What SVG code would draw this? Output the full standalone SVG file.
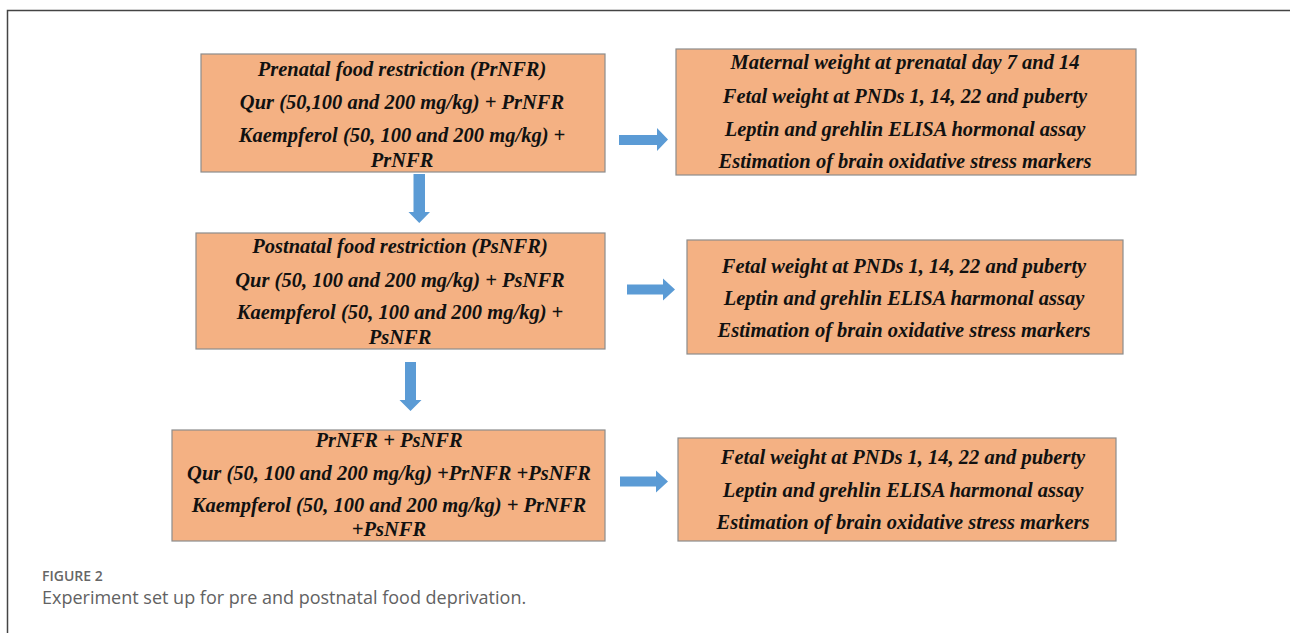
<svg xmlns="http://www.w3.org/2000/svg" width="1290" height="633" viewBox="0 0 1290 633">
<style>
.box{fill:#F4B183;stroke:#8C8C8C;stroke-width:1.2}
.t{font-family:"Liberation Serif","Times New Roman",serif;font-weight:bold;font-style:italic;font-size:20.5px;fill:#111;text-anchor:middle}
.arr{fill:#5B9BD5}
.cap1{font-family:"Open Sans","Liberation Sans",sans-serif;font-weight:600;font-size:14px;fill:#666}
.cap2{font-family:"Open Sans","Liberation Sans",sans-serif;font-size:18px;fill:#626262}
</style>
<rect x="0" y="0" width="1290" height="633" fill="#fff"/>
<path d="M7.5 633 V10.5 H1290" fill="none" stroke="#444" stroke-width="1.5"/>

<g id="prenatal">
<rect class="box" x="201" y="54" width="404" height="118"/>
<text class="t" x="402" y="76">Prenatal food restriction (PrNFR)</text>
<text class="t" x="402" y="109">Qur (50,100 and 200 mg/kg) + PrNFR</text>
<text class="t" x="402" y="142">Kaempferol (50, 100 and 200 mg/kg) +</text>
<text class="t" x="402" y="167">PrNFR</text>
</g>

<g id="prenatal-outcomes">
<rect class="box" x="676" y="49" width="460" height="126"/>
<text class="t" x="905" y="69">Maternal weight at prenatal day 7 and 14</text>
<text class="t" x="905" y="103">Fetal weight at PNDs 1, 14, 22 and puberty</text>
<text class="t" x="905" y="136">Leptin and grehlin ELISA hormonal assay</text>
<text class="t" x="905" y="168">Estimation of brain oxidative stress markers</text>
</g>

<g id="postnatal">
<rect class="box" x="196" y="233" width="409" height="116"/>
<text class="t" x="400" y="253">Postnatal food restriction (PsNFR)</text>
<text class="t" x="400" y="287">Qur (50, 100 and 200 mg/kg) + PsNFR</text>
<text class="t" x="400" y="319">Kaempferol (50, 100 and 200 mg/kg) +</text>
<text class="t" x="400" y="344">PsNFR</text>
</g>

<g id="postnatal-outcomes">
<rect class="box" x="687" y="240" width="436" height="114"/>
<text class="t" x="904" y="273">Fetal weight at PNDs 1, 14, 22 and puberty</text>
<text class="t" x="904" y="305">Leptin and grehlin ELISA harmonal assay</text>
<text class="t" x="904" y="337">Estimation of brain oxidative stress markers</text>
</g>

<g id="combined">
<rect class="box" x="172" y="430" width="433" height="111"/>
<text class="t" x="389" y="447">PrNFR + PsNFR</text>
<text class="t" x="389" y="480">Qur (50, 100 and 200 mg/kg) +PrNFR +PsNFR</text>
<text class="t" x="389" y="512">Kaempferol (50, 100 and 200 mg/kg) + PrNFR</text>
<text class="t" x="389" y="536">+PsNFR</text>
</g>

<g id="combined-outcomes">
<rect class="box" x="678" y="438" width="438" height="103"/>
<text class="t" x="903" y="464">Fetal weight at PNDs 1, 14, 22 and puberty</text>
<text class="t" x="903" y="497">Leptin and grehlin ELISA harmonal assay</text>
<text class="t" x="903" y="529">Estimation of brain oxidative stress markers</text>
</g>

<g id="connectors">
<path class="arr" d="M619 135 H657 V128 L668 139.5 L657 151 V145 H619 Z"/>
<path class="arr" d="M627 284.5 H663 V278.5 L675 289.5 L663 300.5 V294.5 H627 Z"/>
<path class="arr" d="M620 476.5 H656 V470.5 L668 481.5 L656 492.5 V486.5 H620 Z"/>
<path class="arr" d="M413.5 174 H425 V212 H430 L419.25 223 L408.5 212 H413.5 Z"/>
<path class="arr" d="M405 362 H416 V400 H421.5 L410.5 411 L399.5 400 H405 Z"/>
</g>

<g id="caption">
<text class="cap1" x="42" y="581">FIGURE 2</text>
<text class="cap2" x="42" y="604">Experiment set up for pre and postnatal food deprivation.</text>
</g>
</svg>
